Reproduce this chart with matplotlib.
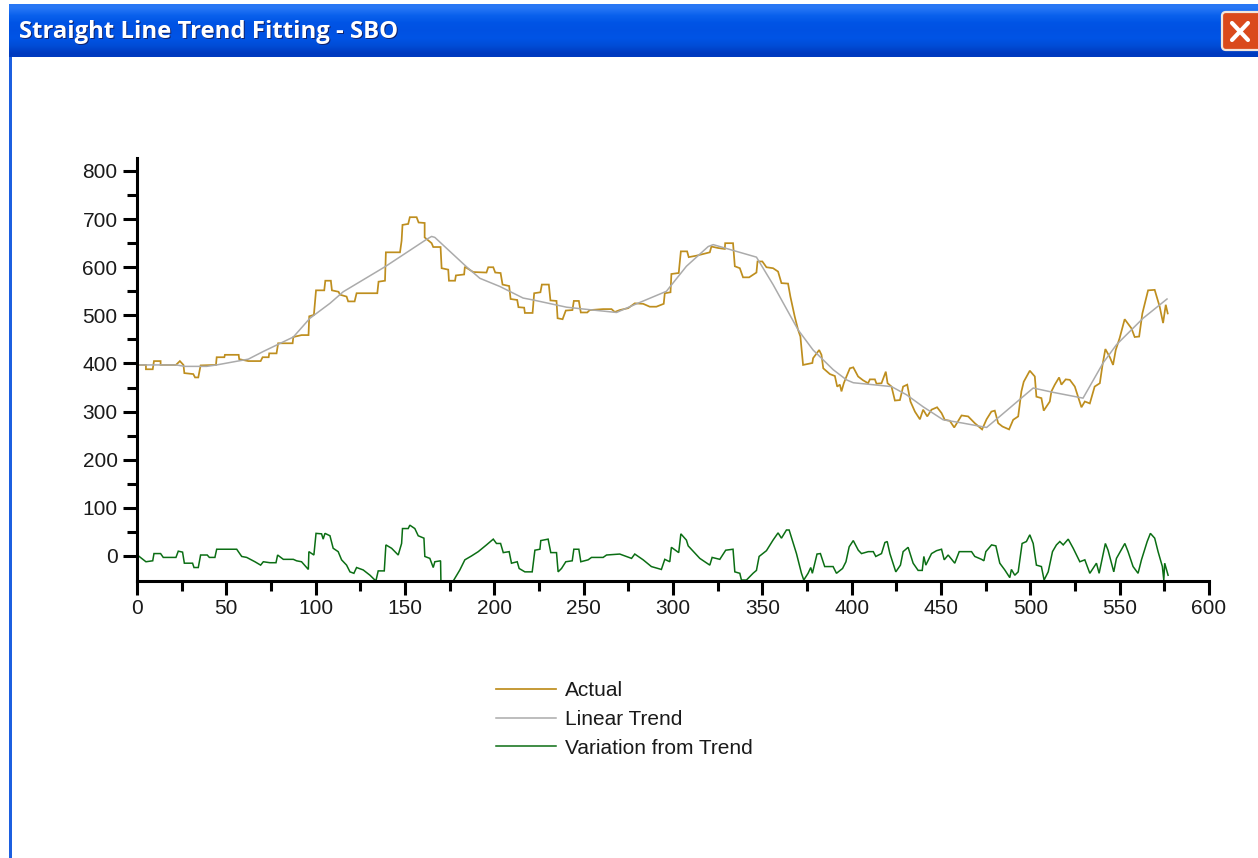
import numpy as np
import matplotlib
matplotlib.use("Agg")
import matplotlib.pyplot as plt
from matplotlib.patches import FancyBboxPatch, Rectangle
from matplotlib.ticker import MultipleLocator

TITLE = "Straight Line Trend Fitting - SBO"
LABELS = ["Actual", "Linear Trend", "Variation from Trend"]

actual = [(0.2,397),(5,397),(5,388),(8.8,388),(9.5,405),(13.2,405),(13.2,397),(21.8,397),(24,405),(26,397),(26.5,380),(31.5,378),(32.5,371),(34.3,371),(35.6,396),(44.2,397),(44.6,413),(48.9,413),(49.2,418),(56.9,418),(57.2,409),(62.3,405),(69.2,405),(70.3,413),(73.7,413),(74,421),(78.1,421),(79,442),(87.1,442),(87.5,455),(92.1,459),(96,459),(96.4,498),(99,501),(100.2,552),(104.8,552),(105.4,572),(108.5,572),(109.1,552),(112.8,549),(113.6,543),(117.3,539),(118.2,529),(121.8,529),(122.9,546),(134.5,546),(135.2,570),(138.8,572),(139.3,631),(147.2,631),(148.1,655),(148.6,688),(151.8,690),(152.7,704),(156.5,704),(157.6,693),(161,692),(161,662),(164.9,650),(165.8,642),(169.9,642),(170.5,598),(174.2,595),(174.6,572),(178,572),(178.5,583),(183.1,585),(183.5,601),(188.2,590),(195.6,589),(196.6,600),
          (199.4,600),(200.5,589),(203.5,588),(204.6,564),(208.3,561),(209.1,534),(212.8,532),(213.5,517),(216.7,516),(217.1,505),(221.4,505),(222.3,546),(225.8,548),(226.6,564),(230.5,564),(231.4,531),(234.8,530),(235.4,494),(238.2,492),(240,510),(243.7,511),(244.5,530),(247.3,530),(248.4,506),(252,506),(253.4,511),(260.9,513),(265.6,513),(267.4,507),(270.2,511),(274.9,515),(278.6,525),(283.3,524),(287,518),(290.7,518),(294.8,524),(295.4,546),(298.6,548),(299.1,586),(303.2,588),(304.4,633),(307.9,633),(308.8,621),(313.1,624),(320.6,631),(321.5,643),(325.2,640),(329,638),(329.2,650),(333.6,650),(334.6,602),(337.4,598),(339.2,579),(342.6,579),(346.7,589),(347.3,612),(350,612),(352.3,600),(356,598),(358.8,591),(360.7,567),(364.4,566),(365.7,539),(368.1,498),(370,470),(371.3,456),(372.8,397),(378,401),(378.4,411),(381.8,428),(383.1,418),
          (384.1,390),(387.8,378),(390.6,374),(391.9,352),(393.4,356),(394.3,342),(395.6,359),(397.1,373),(399,390),(400.9,392),(403.6,373),(406.4,365),(409.2,359),(410.2,367),(413,367),(413.9,358),(416.7,359),(419.1,383),(420.1,359),(422.3,352),(424.2,323),(427,324),(428.8,352),(431.1,356),(432.9,321),(435.4,300),(438.2,284),(440,304),(442.3,290),(444.7,304),(447.8,309),(450.3,297),(452.1,283),(454.9,281),(457.4,267),(461.5,292),(465.2,290),(468.9,276),(473,263),(475.5,284),(478.2,300),(480.1,302),(482,276),(484.4,269),(488.1,263),(490.4,283),(493.2,290),(495,342),(496.3,362),(499.7,385),(502.5,373),(503.4,331),(506.2,328),(507.5,302),(510.9,321),(511.8,342),(513.7,356),(516.1,371),(517.4,356),(519.8,367),(522.1,366),(524.9,352),(526.7,331),(528.6,309),(530.5,321),(533.3,317),(536,352),(538.9,359),(540.4,397),(542,430),(544.5,413),(546.3,397),(547.8,428),(550,453),(552.8,492),(556.6,473),(558.4,455),(560.9,456),(562.7,504),(565.9,552),(569.6,553),(572.4,518),(574.3,484),(575.8,522),(576.9,504)]

trend = [(0,397),(21.8,397),(26.9,394),(39,394),(44.6,397),(62.3,409),(70.7,425),(87.5,455),(96.8,494),(108,525),(115.4,549),(138.8,601),(162.1,658),(164.9,664),(166.7,662),(184.4,601),(191.9,577),(203.1,560),(216.1,536),(221.7,532),(240.4,517),(255.3,511),(268.4,506),(279.6,524),(296.3,550),(307.5,602),(319.7,643),(322.5,647),(333.6,635),(346.7,621),(356,564),(370,470),(378.4,428),(389.7,387),(397.1,366),(400.9,360),(422.3,352),(430.7,335),(440,310),(451.2,283),(462.4,276),(475.5,267),(482.9,290),(501.6,349),(512.8,340),(529.5,328),(540.7,401),(548.2,439),(563.1,494),(576.5,534)]

variation = [(0.2,2),(5,-12),(8.8,-10),(9.5,5),(13.2,5),(14.7,-3),(21.8,-3),(23.1,10),(25.5,8),(26.5,-15),(31.1,-15),(31.9,-24),(34.3,-24),(35.6,2),(39.3,2),(40.5,-3),(43.6,-3),(44.6,14),(55.8,14),(58.6,-1),(61.4,-3),(66,-12),(69.2,-19),(70.7,-12),(74.4,-14),(77.8,-14),(78.7,2),(81.9,-7),(87.5,-7),(89.3,-10),(92.1,-12),(95.9,-28),(96.2,9),(99,2),(100.2,47),(103.3,46),(104.2,35),(105.2,47),(108,42),(109.8,16),(112.6,9),(114.5,-8),(117.3,-19),(119.2,-33),(121.4,-36),(122.9,-24),(126.6,-29),(130.4,-40),(133.7,-52),(135,-31),(138.4,-31),(139.3,23),(142.5,16),(146.2,2),(148.1,26),(148.6,57),(151.8,57),(152.7,64),(155.5,57),(157.4,42),(160.6,37),(161.1,-1),(163.9,-5),(165.8,-24),(166.7,-12),(169.9,-10),(170.1,-52),(177,-52),(180.7,-29),(183.5,-8),(187.2,0),(191,9),
             (195.6,23),(199.4,35),(201.2,26),(203.5,26),(205,7),(208.3,9),(209.6,-15),(212.8,-12),(213.9,-26),(217.1,-33),(221.2,-33),(222.7,12),(225.5,14),(226,32),(230.1,35),(231.6,7),(234.8,7),(235.7,-33),(237.6,-26),(240,-12),(243.6,-10),(244.5,14),(247.3,14),(248.4,-12),(252.5,-8),(254.4,-3),(260.9,-3),(262.8,2),(270.2,4),(276.8,-5),(278.6,4),(283.3,-8),(287.9,-22),(293.5,-28),(295.4,-7),(298.2,-12),(299.1,18),(303.2,7),(304.4,46),(307.5,33),(308.5,21),(315,-5),(320.6,-19),(321.9,-3),(326.2,-7),(329.5,12),(333.6,14),(334.6,-33),(337.4,-36),(338.3,-50),(341.1,-50),(344.8,-36),(346.7,-30),(348.2,-1),(352.3,11),(356,33),(358.8,48),(360.7,37),(363.5,54),(365,54),(369.1,5),(371.9,-36),(373.2,-50),(375.6,-36),(377.1,-24),(378,-36),(380.6,4),(382.5,5),(384.9,-22),(389.6,-22),(391.5,-36),
             (394.9,-26),(396.8,-12),(398.6,19),(400.9,32),(403.7,12),(405.5,5),(409.3,9),(412.1,9),(413.5,-1),(416.7,5),(418.6,28),(419.9,30),(421.4,5),(424.7,-33),(427.3,-19),(428.8,9),(431.6,18),(434.4,-15),(437.2,-30),(439.5,-30),(440.4,-1),(441.5,-19),(444.7,5),(447.5,11),(450.3,14),(451.8,-8),(454,2),(457.7,-15),(460.2,9),(467.1,9),(468.9,-1),(472.7,-7),(474,-10),(475.1,9),(478.3,23),(480.7,21),(482.9,-15),(485.7,-29),(488.5,-45),(489.4,-28),(491.3,-40),(493.2,-33),(495.4,26),(497.8,30),(499.7,44),(501.6,26),(503.4,-19),(506.2,-22),(507.7,-50),(510,-33),(512.4,9),(514.6,23),(516.5,30),(518.4,23),(521.2,35),(524,16),(527.7,-12),(530.5,-8),(533.3,-36),(537,-15),(538.5,-36),(542,26),(543.5,12),(546.7,-33),(548.2,-5),(552.9,26),(554.7,9),(557.5,-22),(560.3,-36),(562.2,-8),(565.4,30),(567.2,47),(569.6,37),(571.5,9),(573.9,-22),(574.7,-50),(575.2,-15),(577.1,-40)]

C_ACTUAL = "#BE8E1E"
C_TREND = "#ABABAB"
C_VAR = "#0B6E14"
C_TEXT = "#1A1A1A"
FONT = "Liberation Sans"

W, H = 1258, 858
fig = plt.figure(figsize=(W / 100, H / 100), dpi=100, facecolor="white")

# window chrome
bg = fig.add_axes([0, 0, 1, 1], zorder=0)
grad = np.array([[0.16, 0.47, 0.96], [0.04, 0.38, 0.93], [0.0, 0.33, 0.90], [0.0, 0.32, 0.89],
                 [0.0, 0.33, 0.90], [0.0, 0.30, 0.84], [0.0, 0.23, 0.75]])[:, None, :]
bg.imshow(grad, extent=(9, W, 57, 4), aspect="auto", interpolation="bilinear", zorder=1)
bg.set_xlim(0, W)
bg.set_ylim(H, 0)
bg.axis("off")
bg.add_patch(Rectangle((9, 57), 2.5, H - 57, color="#1C5FE0", lw=0, zorder=1))
bg.add_patch(FancyBboxPatch((1222, 12), 40, 38, boxstyle="round,pad=0,rounding_size=4",
                            fc="#DA4A1C", ec="#F2E6DC", lw=1.6, zorder=2))
bg.plot([1232, 1248], [23, 40], color="white", lw=3, solid_capstyle="round", zorder=3)
bg.plot([1248, 1232], [23, 40], color="white", lw=3, solid_capstyle="round", zorder=3)
bg.text(20, 33, TITLE, color="#12246E", fontsize=17.2, fontweight="bold", family="Open Sans",
        va="center", ha="left", zorder=3)
bg.text(19, 32, TITLE, color="white", fontsize=17.2, fontweight="bold", family="Open Sans",
        va="center", ha="left", zorder=4)

# plot area
left, right, top, bottom = 137, 1209, 158, 581
ax = fig.add_axes([left / W, 1 - bottom / H, (right - left) / W, (bottom - top) / H], zorder=1)
ax.patch.set_alpha(0)
l1, = ax.plot(*zip(*actual), color=C_ACTUAL, lw=1.25, label=LABELS[0], solid_joinstyle="miter")
l2, = ax.plot(*zip(*trend), color=C_TREND, lw=1.1, label=LABELS[1])
l3, = ax.plot(*zip(*variation), color=C_VAR, lw=1.1, label=LABELS[2], solid_joinstyle="miter")
ax.set_xlim(0, 600)
ax.set_ylim(-52, 827)
for s in ("top", "right"):
    ax.spines[s].set_visible(False)
for s in ("left", "bottom"):
    ax.spines[s].set_linewidth(2.2)
ax.xaxis.set_major_locator(MultipleLocator(50))
ax.xaxis.set_minor_locator(MultipleLocator(25))
ax.set_yticks(np.arange(0, 801, 100))
ax.set_yticks(np.arange(50, 801, 100), minor=True)
ax.tick_params(axis="both", which="major", length=10, width=2.2, labelsize=15, pad=3, labelcolor=C_TEXT)
ax.tick_params(axis="y", which="major", length=10, pad=4)
ax.tick_params(axis="x", which="minor", length=7, width=2.2)
ax.tick_params(axis="y", which="minor", length=7, width=2.2)
for t in ax.get_xticklabels() + ax.get_yticklabels():
    t.set_family(FONT)

leg = fig.legend(handles=[l1, l2, l3], labels=LABELS, loc="upper left",
                 bbox_to_anchor=(496 / W, 1 - 681 / H), frameon=False, borderpad=0, borderaxespad=0,
                 handlelength=2.86, handletextpad=0.46, labelspacing=0.47,
                 prop={"family": FONT, "size": 15})
for t in leg.get_texts():
    t.set_color(C_TEXT)

fig.savefig("out.png", dpi=100)
